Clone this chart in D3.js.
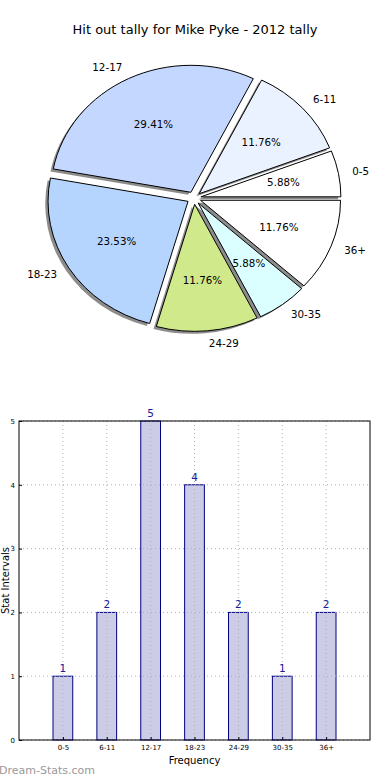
<!DOCTYPE html>
<html><head><meta charset="utf-8">
<script src="https://cdn.jsdelivr.net/npm/d3@7"></script>
<style>body{margin:0;background:#fff;}svg{display:block;font-family:"DejaVu Sans",sans-serif;}</style>
</head><body>
<script>
const categories = ["0-5","6-11","12-17","18-23","24-29","30-35","36+"];
const values = [1,2,5,4,2,1,2];
const sliceColors = ["#ffffff","#ebf2ff","#c4d8ff","#b5d5ff","#d0e98a","#dbffff","#ffffff"];
const yTicks = [0,1,2,3,4,5];
const title = "Hit out tally for Mike Pyke - 2012 tally";

const W=390,H=780;
const svg=d3.select("body").append("svg").attr("width",W).attr("height",H);

svg.append("text").attr("x",195).attr("y",34).attr("text-anchor","middle")
  .attr("font-size",13).attr("fill","#000").text(title);

// Pie (elliptical, exploded, matplotlib-like: counterclockwise from 3 o'clock)
const cx=194, cy=198, rx=140, ry=127, explode=0.05;
const total=d3.sum(values);
const pie=d3.pie().sort(null).startAngle(Math.PI/2).endAngle(Math.PI/2-2*Math.PI);
const arcs=pie(values);
const arcGen=d3.arc().innerRadius(0).outerRadius(1);
const pg=svg.append("g");
function off(d,k){const a=(d.startAngle+d.endAngle)/2;return [Math.sin(a)*k,-Math.cos(a)*k];}
// shadows
arcs.forEach((d,i)=>{
  const [ox,oy]=off(d,explode);
  pg.append("path").attr("d",arcGen(d))
    .attr("transform",`translate(${cx-2.8+ox*rx},${cy+2.5+oy*ry}) scale(${rx},${ry})`)
    .attr("fill","#000").attr("fill-opacity",0.45).attr("stroke","none");
});
arcs.forEach((d,i)=>{
  const [ox,oy]=off(d,explode);
  pg.append("path").attr("d",arcGen(d))
    .attr("transform",`translate(${cx+ox*rx},${cy+oy*ry}) scale(${rx},${ry})`)
    .attr("fill",sliceColors[i]).attr("stroke","#000").attr("stroke-width",1)
    .attr("vector-effect","non-scaling-stroke");
});
arcs.forEach((d,i)=>{
  const [ux,uy]=off(d,1.1+explode);
  const x=cx+ux*rx, y=cy+uy*ry;
  svg.append("text").attr("x",x).attr("y",y).attr("dy","0.35em")
    .attr("text-anchor",ux>0?"start":"end").attr("font-size",10.3).text(categories[i]);
  const [px,py]=off(d,0.6+explode);
  svg.append("text").attr("x",cx+px*rx).attr("y",cy+py*ry).attr("dy","0.35em")
    .attr("text-anchor","middle").attr("font-size",10.3)
    .text((values[i]/total*100).toFixed(2)+"%");
});

// Bar chart
const L=19,R=370,T=421,B=740;
const x=d3.scaleLinear().domain([-1,categories.length]).range([L,R]);
const y=d3.scaleLinear().domain([0,5]).range([B,T]);
const bg=svg.append("g");
const bw=x(0.45)-x(0);
categories.forEach((c,i)=>{
  bg.append("rect").attr("x",x(i)-bw/2).attr("y",y(values[i])).attr("width",bw)
    .attr("height",y(0)-y(values[i])).attr("fill","#ccccE6").attr("stroke","#000080").attr("stroke-width",1);
});
categories.forEach((c,i)=>{
  bg.append("line").attr("x1",x(i)).attr("x2",x(i)).attr("y1",T).attr("y2",B)
    .attr("stroke","#b0b0b0").attr("stroke-width",1).attr("stroke-dasharray","1,3");
});
yTicks.forEach(t=>{
  bg.append("line").attr("x1",L).attr("x2",R).attr("y1",y(t)).attr("y2",y(t))
    .attr("stroke","#b0b0b0").attr("stroke-width",1).attr("stroke-dasharray","1,3");
});
categories.forEach((c,i)=>{
  bg.append("text").attr("x",x(i)).attr("y",y(values[i])-4).attr("text-anchor","middle")
    .attr("font-size",10.5).attr("fill","#1a1a9a").text(values[i]);
});
bg.append("rect").attr("x",L).attr("y",T).attr("width",R-L).attr("height",B-T)
  .attr("fill","none").attr("stroke","#000").attr("stroke-width",1);
const xa=d3.axisBottom(x).tickValues(d3.range(categories.length)).tickFormat(i=>categories[i])
  .tickSizeInner(-3).tickSizeOuter(0).tickPadding(5);
const xg=bg.append("g").attr("transform",`translate(0,${B})`).call(xa);
xg.select(".domain").remove();
xg.selectAll("text").attr("font-size",7).attr("font-family","DejaVu Sans");
const ya=d3.axisLeft(y).tickValues(yTicks).tickFormat(d3.format("d")).tickSizeInner(-3).tickSizeOuter(0).tickPadding(4);
const yg=bg.append("g").attr("transform",`translate(${L},0)`).call(ya);
yg.select(".domain").remove();
yg.selectAll("text").attr("font-size",7).attr("font-family","DejaVu Sans");
bg.append("text").attr("x",(L+R)/2).attr("y",764).attr("text-anchor","middle").attr("font-size",10).text("Frequency");
bg.append("text").attr("transform",`translate(9,${(T+B)/2}) rotate(-90)`).attr("text-anchor","middle")
  .attr("font-size",10).text("Stat Intervals");
svg.append("text").attr("x",-1).attr("y",774).attr("font-size",11).attr("fill","#999").text("Dream-Stats.com");
</script>
</body></html>
